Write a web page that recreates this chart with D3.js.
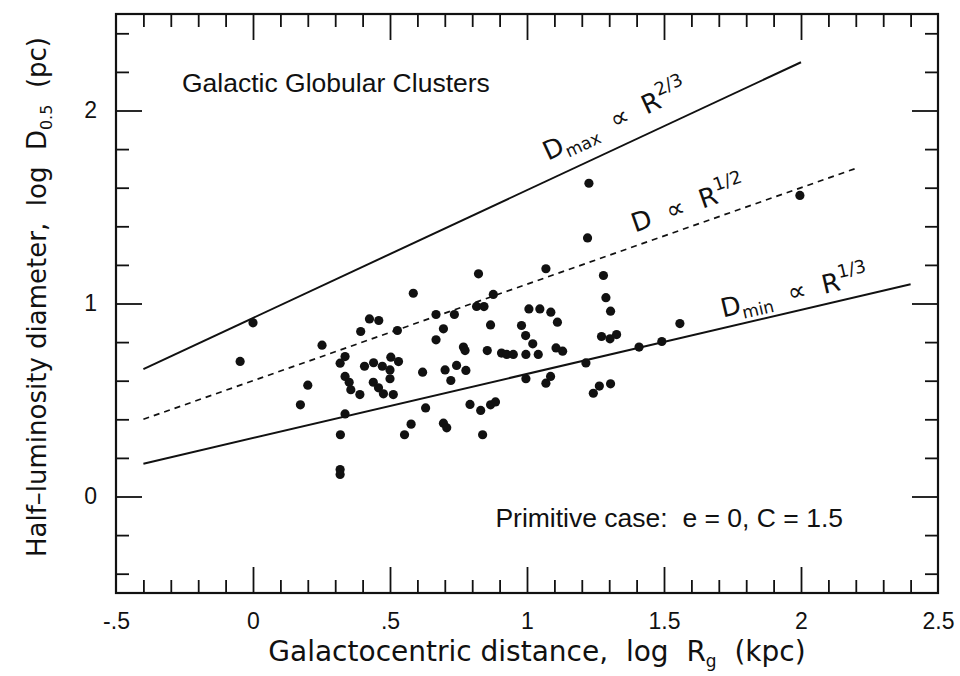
<!DOCTYPE html>
<html>
<head>
<meta charset="utf-8">
<script src="https://cdn.jsdelivr.net/npm/d3@7"></script>
<style>
body { margin: 0; background: #fff; }
svg text { fill: #111; }
.tick text { font-family: "Liberation Sans", Arial, sans-serif; font-size: 23px; fill: #111; }
.tick line { stroke: #111; stroke-width: 1.8; }
.hand { font-family: "DejaVu Sans", sans-serif; font-weight: normal; }
</style>
</head>
<body>
<div id="chart" style="width:960px;height:676px"></div>
<script>
// log Rg (kpc) / log D0.5 (pc) for the clusters
var clusterX = [-0.047, 0.00, 0.173, 0.20, 0.252, 0.318, 0.318, 0.319, 0.336, 0.336,
  0.318, 0.336, 0.351, 0.357, 0.39, 0.393, 0.425, 0.459, 0.407, 0.440,
  0.472, 0.503, 0.531, 0.527, 0.50, 0.50, 0.439, 0.458, 0.476, 0.512,
  0.553, 0.577, 0.585, 0.619, 0.630, 0.668, 0.668, 0.695, 0.695, 0.707,
  0.701, 0.722, 0.735, 0.743, 0.777, 0.768, 0.774, 0.792, 0.816, 0.843,
  0.823, 0.831, 0.838, 0.855, 0.867, 0.867, 0.885, 0.877, 0.907, 0.926,
  0.950, 0.980, 0.995, 0.996, 0.996, 1.007, 1.021, 1.041, 1.047, 1.069,
  1.069, 1.086, 1.087, 1.106, 1.111, 1.130, 1.215, 1.221, 1.226, 1.242,
  1.264, 1.272, 1.279, 1.288, 1.303, 1.305, 1.305, 1.327, 1.409, 1.492,
  1.558, 1.996];
var clusterY = [0.70, 0.90, 0.475, 0.577, 0.784, 0.14, 0.114, 0.32, 0.428, 0.725,
  0.691, 0.622, 0.592, 0.553, 0.528, 0.855, 0.920, 0.912, 0.675, 0.693,
  0.675, 0.722, 0.699, 0.860, 0.656, 0.610, 0.592, 0.563, 0.532, 0.528,
  0.32, 0.375, 1.053, 0.644, 0.459, 0.943, 0.812, 0.869, 0.38, 0.356,
  0.656, 0.601, 0.943, 0.679, 0.653, 0.774, 0.756, 0.477, 0.985, 0.984,
  1.154, 0.446, 0.32, 0.756, 0.889, 0.475, 0.49, 1.047, 0.743, 0.736,
  0.736, 0.886, 0.834, 0.736, 0.61, 0.972, 0.791, 0.736, 0.972, 1.18,
  0.587, 0.622, 0.955, 0.770, 0.903, 0.753, 0.692, 1.340, 1.623, 0.535,
  0.572, 0.829, 1.145, 1.03, 0.817, 0.96, 0.584, 0.839, 0.774, 0.803,
  0.896, 1.56];

var xTickValues = [-0.5, 0, 0.5, 1, 1.5, 2, 2.5];
var xTickLabels = ["-.5", "0", ".5", "1", "1.5", "2", "2.5"];
var yTickValues = [0, 1, 2];
var yTickLabels = ["0", "1", "2"];

// size relations: end points in (log Rg, log D)
var relationNames = ["Dmax", "D", "Dmin"];
var relationX = [[-0.4, 2.0], [-0.4, 2.2], [-0.4, 2.4]];
var relationY = [[0.66, 2.25], [0.40, 1.70], [0.17, 1.10]];
var relationPow = ["2/3", "1/2", "1/3"];
var relationSub = ["max", "", "min"];

var chart = document.getElementById("chart"),
    width = 960,
    height = 676,
    pLeft = 116, pRight = 938, pTop = 14, pBottom = 593,
    major = 26, minor = 13;

var x = d3.scaleLinear().domain([-0.5, 2.5]).range([pLeft, pRight]);
var y = d3.scaleLinear().domain([-0.5, 2.5]).range([pBottom, pTop]);

var svg = d3.select(chart).append("svg")
  .attr("width", width)
  .attr("height", height);

var xMinor = d3.range(-4, 25).map(function(i){ return i / 10; })
  .filter(function(v){ return Math.abs(v * 2 - Math.round(v * 2)) > 1e-6; });
var yMinor = d3.range(-2, 13).map(function(i){ return i / 5; })
  .filter(function(v){ return Math.abs(v - Math.round(v)) > 1e-6; });
var xMajorIn = xTickValues.filter(function(v){ return v > -0.5 && v < 2.5; });

function addAxis(axis, tx, ty, labels) {
  var g = svg.append("g").attr("transform", "translate(" + tx + "," + ty + ")").call(axis);
  g.select(".domain").remove();
  if (!labels) g.selectAll(".tick text").remove();
  return g;
}

// minor ticks, all four sides
addAxis(d3.axisBottom(x).tickValues(xMinor).tickSize(-minor), 0, pBottom, false);
addAxis(d3.axisTop(x).tickValues(xMinor).tickSize(-minor), 0, pTop, false);
addAxis(d3.axisLeft(y).tickValues(yMinor).tickSize(-minor), pLeft, 0, false);
addAxis(d3.axisRight(y).tickValues(yMinor).tickSize(-minor), pRight, 0, false);

// major ticks
addAxis(d3.axisTop(x).tickValues(xMajorIn).tickSize(-major), 0, pTop, false);
addAxis(d3.axisRight(y).tickValues(yTickValues).tickSize(-major), pRight, 0, false);
var gx = addAxis(d3.axisBottom(x).tickValues(xTickValues).tickSize(-major).tickPadding(20)
  .tickFormat(function(d, i){ return xTickLabels[i]; }), 0, pBottom, true);
gx.selectAll(".tick").filter(function(d){ return d === -0.5 || d === 2.5; }).select("line").remove();
addAxis(d3.axisLeft(y).tickValues(yTickValues).tickSize(-major).tickPadding(19)
  .tickFormat(function(d, i){ return yTickLabels[i]; }), pLeft, 0, true);

svg.append("rect")
  .attr("x", pLeft).attr("y", pTop)
  .attr("width", pRight - pLeft).attr("height", pBottom - pTop)
  .attr("fill", "none").attr("stroke", "#111").attr("stroke-width", 2.2);

// relation lines
svg.selectAll("line.rel")
  .data(relationNames)
  .enter().append("line")
  .attr("class", "rel")
  .attr("x1", function(d, i){ return x(relationX[i][0]); })
  .attr("y1", function(d, i){ return y(relationY[i][0]); })
  .attr("x2", function(d, i){ return x(relationX[i][1]); })
  .attr("y2", function(d, i){ return y(relationY[i][1]); })
  .attr("stroke", "#111")
  .attr("stroke-width", function(d){ return d === "D" ? 1.7 : 2; })
  .attr("stroke-dasharray", function(d){ return d === "D" ? "6,5" : null; });

// relation labels, turned to follow their line
var labelAt = [[1.077, 1.74], [1.394, 1.368], [1.715, 0.927]];
relationNames.forEach(function(name, i) {
  var ang = Math.atan2(y(relationY[i][1]) - y(relationY[i][0]),
                       x(relationX[i][1]) - x(relationX[i][0])) * 180 / Math.PI;
  var t = svg.append("text")
    .attr("class", "hand")
    .attr("xml:space", "preserve")
    .attr("transform", "translate(" + x(labelAt[i][0]) + "," + y(labelAt[i][1]) + ") rotate(" + ang + ")")
    .attr("font-size", 26);
  t.append("tspan").text("D");
  if (relationSub[i]) {
    t.append("tspan").attr("font-size", 17).attr("dy", 6).text(relationSub[i]);
    t.append("tspan").attr("dy", -6).text("  \u221D  R");
  } else {
    t.append("tspan").text("  \u221D  R");
  }
  t.append("tspan").attr("font-size", 18).attr("dy", -12).text(relationPow[i]);
});

// clusters
svg.append("g").selectAll("circle")
  .data(clusterX)
  .enter().append("circle")
  .attr("cx", function(d){ return x(d); })
  .attr("cy", function(d, i){ return y(clusterY[i]); })
  .attr("r", 4.6)
  .attr("fill", "#111");

svg.append("text")
  .attr("x", 182).attr("y", 92)
  .attr("font-family", "Liberation Sans, Arial, sans-serif")
  .attr("font-size", 26.5)
  .text("Galactic Globular Clusters");

svg.append("text")
  .attr("x", 843).attr("y", 527)
  .attr("text-anchor", "end")
  .attr("font-family", "Liberation Sans, Arial, sans-serif")
  .attr("font-size", 26.5)
  .attr("xml:space", "preserve")
  .text("Primitive case:  e = 0, C = 1.5");

// axis titles
var xt = svg.append("text")
  .attr("class", "hand")
  .attr("xml:space", "preserve")
  .attr("x", 537).attr("y", 661)
  .attr("text-anchor", "middle")
  .attr("font-size", 28);
xt.append("tspan").text("Galactocentric distance,  log  R");
xt.append("tspan").attr("font-size", 17).attr("dy", 6).text("g");
xt.append("tspan").attr("dy", -6).text("  (kpc)");

var yt = svg.append("text")
  .attr("class", "hand")
  .attr("xml:space", "preserve")
  .attr("transform", "translate(46,297) rotate(-90)")
  .attr("text-anchor", "middle")
  .attr("font-size", 26);
yt.append("tspan").text("Half\u2013luminosity diameter,  log  D");
yt.append("tspan").attr("font-size", 16).attr("dy", 6).text("0.5");
yt.append("tspan").attr("dy", -6).text("  (pc)");
</script>
</body>
</html>
